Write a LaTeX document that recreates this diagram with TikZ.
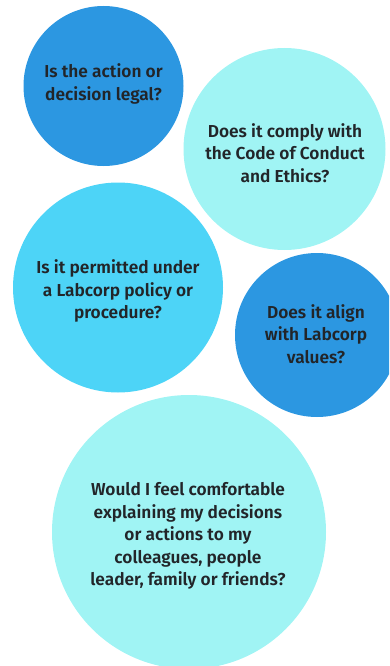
\documentclass[tikz,border=0pt]{standalone}
\usepackage{fontspec}
\newfontfamily\labfont{Fira Sans}[UprightFont={* SemiBold}]
\definecolor{darkblue}{HTML}{2C97E1}
\definecolor{lightcyan}{HTML}{A0F4F4}
\definecolor{midcyan}{HTML}{4DD4F7}
\definecolor{txt}{HTML}{222529}
\tikzset{
  lbl/.style={align=center, font=\labfont\fontsize{17.3}{22.4}\selectfont, text=txt}
}
\begin{document}
\begin{tikzpicture}[x=1pt,y=-1pt]
\useasboundingbox (0,0) rectangle (389,666);
\begin{scope}
\clip (0,0) rectangle (389,666);
\fill[darkblue] (103.5,86) circle (80);
\fill[lightcyan] (284.5,149) circle (101);
\fill[midcyan] (118,287.5) circle (105);
\fill[darkblue] (317,335) circle (82);
\fill[lightcyan] (189,532) circle (137);
\end{scope}
\node[lbl] (q1) at (103.5,84) {Is the action or\\decision legal?};
\node[lbl] (q2) at (285,153) {Does it comply with\\the Code of Conduct\\and Ethics?};
\node[lbl] (q3) at (118,291) {Is it permitted under\\a Labcorp policy or\\procedure?};
\node[lbl] (q4) at (316,334) {Does it align\\with Labcorp\\values?};
\node[lbl] (q5) at (188,536) {Would I feel comfortable\\explaining my decisions\\or actions to my\\colleagues, people\\leader, family or friends?};
\end{tikzpicture}
\end{document}
